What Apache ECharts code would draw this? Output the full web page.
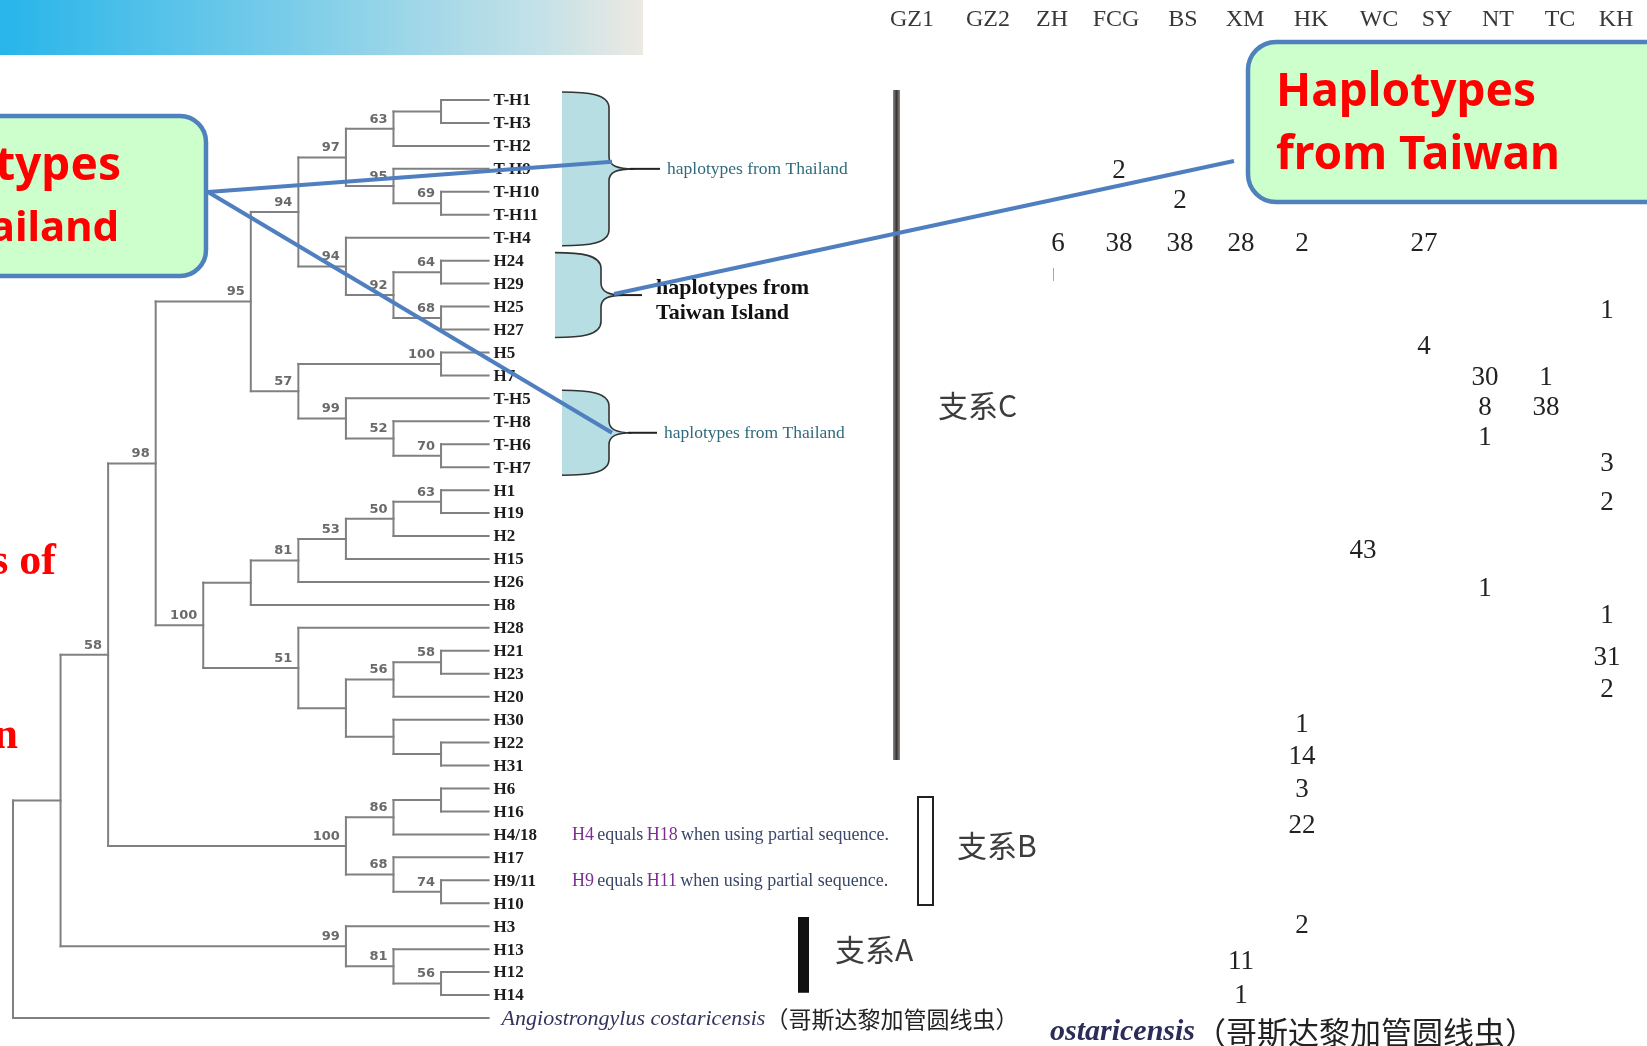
<!DOCTYPE html>
<html>
<head>
<meta charset="utf-8">
<script src="https://cdn.jsdelivr.net/npm/echarts@6/dist/echarts.min.js"></script>
<style>
  html, body { margin: 0; padding: 0; background: #fff; }
  #chart { width: 1647px; height: 1046px; }
</style>
</head>
<body>
<div id="chart"></div>
<script>
// ---- Tree topology (Newick clades, internal labels = bootstrap support) ----
const cladeThaiA   = '((((T-H1,T-H3),T-H2)63,(T-H9,(T-H10,T-H11)69)95)97,(T-H4,((H24,H29)64,(H25,H27)68)92)94)94';
const cladeThaiB   = '((H5,H7)100,(T-H5,(T-H8,(T-H6,T-H7)70)52)99)57';
const cladeMainA   = '(((((H1,H19)63,H2)50,H15)53,H26)81,H8)';
const cladeMainB   = '(H28,(((H21,H23)58,H20)56,(H30,(H22,H31))))51';
const cladeB       = '(((H6,H16),H4/18)86,(H17,(H9/11,H10)74)68)100';
const cladeA       = '(H3,(H13,(H12,H14)56)81)99';
const outgroupName = 'Angiostrongylus costaricensis';
const outgroupCN   = '（哥斯达黎加管圆线虫）';

// root( ( ( ( (ThaiA, ThaiB)95, (MainA, MainB)100 )98, B )58, A ), outgroup )
const treeNewick =
  '(((((' + cladeThaiA + ',' + cladeThaiB + ')95,(' + cladeMainA + ',' + cladeMainB + ')100)98,' +
  cladeB + ')58,' + cladeA + '),' + outgroupName + ')';

// ---- Haplotype counts per locality ----
const tableColumns = ['GZ1', 'GZ2', 'ZH', 'FCG', 'BS', 'XM', 'HK', 'WC', 'SY', 'NT', 'TC', 'KH'];
// [locality, row, count]
const tableCounts = [
  ['FCG', 3.10, 2],
  ['BS', 4.38, 2],
  ['ZH', 6.26, 6], ['FCG', 6.26, 38], ['BS', 6.26, 38], ['XM', 6.26, 28], ['HK', 6.26, 2], ['SY', 6.26, 27],
  ['KH', 9.19, 1],
  ['SY', 10.75, 4],
  ['NT', 12.12, 30], ['TC', 12.12, 1],
  ['NT', 13.40, 8], ['TC', 13.40, 38],
  ['NT', 14.73, 1],
  ['KH', 15.87, 3],
  ['KH', 17.56, 2],
  ['WC', 19.63, 43],
  ['NT', 21.32, 1],
  ['KH', 22.46, 1],
  ['KH', 24.29, 31],
  ['KH', 25.71, 2],
  ['HK', 27.22, 1],
  ['HK', 28.64, 14],
  ['HK', 30.06, 3],
  ['HK', 31.62, 22],
  ['HK', 35.97, 2],
  ['XM', 37.57, 11],
  ['XM', 39.03, 1]
];

// ---- Newick parsing and cladogram layout ----
function parseNewick(s) {
  let i = 0;
  function node() {
    const n = { children: [] };
    if (s[i] === '(') {
      i++;
      n.children.push(node());
      while (s[i] === ',') { i++; n.children.push(node()); }
      i++;
    }
    let name = '';
    while (i < s.length && !',();'.includes(s[i])) name += s[i++];
    n.name = name.trim();
    return n;
  }
  return node();
}

function layoutTree(root) {
  const leaves = [], nodes = [], segs = [];
  let row = 0;
  (function height(n) {
    n.h = n.children.length ? Math.max(...n.children.map(height)) + 1 : 0;
    return n.h;
  })(root);
  const H = root.h;
  (function place(n) {
    n.x = H - n.h;
    if (!n.children.length) { n.y = row++; leaves.push(n); }
    else {
      n.children.forEach(place);
      n.y = (n.children[0].y + n.children[n.children.length - 1].y) / 2;
      nodes.push(n);
    }
  })(root);
  nodes.forEach(n => {
    segs.push([n.x, n.children[0].y, n.x, n.children[n.children.length - 1].y]);
    n.children.forEach(c => segs.push([n.x, c.y, c.x, c.y]));
  });
  return { leaves, nodes, segs, H };
}

const tree = layoutTree(parseNewick(treeNewick));
const leafRow = {};
tree.leaves.forEach(l => { leafRow[l.name] = l.y; });
const supportNodes = tree.nodes.filter(n => n.name !== '');

// brace groupings drawn right of the tip labels
const braces = [
  { from: 'T-H1', to: 'T-H4', caption: 'haplotypes from Thailand' },
  { from: 'H24', to: 'H27', caption: 'haplotypes from\nTaiwan Island' },
  { from: 'T-H5', to: 'T-H7', caption: 'haplotypes from Thailand' }
];
// horizontal geometry of each brace: left edge, body, point, tail end
const braceGeom = [
  { L: 562, B: 609, P: 634, T: 660 },
  { L: 555, B: 601, P: 624, T: 642 },
  { L: 562, B: 609, P: 632, T: 657 }
];
// column header nudges (px) relative to the column centres
const headerShift = [-24, -9, -6, -3, 3, 4, 9, 16, 13, 13, 14, 9];

const chart = echarts.init(document.getElementById('chart'));

const serif = '"Liberation Serif", "DejaVu Serif", serif';
const cjk = '"Noto Sans CJK SC", "Noto Sans", sans-serif';

function linear(stops) {
  return { type: 'linear', x: 0, y: 0, x2: 1, y2: 0, colorStops: stops };
}

function bracePaths(L, B, P, y0, yt, y1) {
  const cx = L + 0.55 * (B - L);
  const open =
    'M' + L + ' ' + y0 +
    ' C' + cx + ' ' + y0 + ' ' + B + ' ' + (y0 + 2) + ' ' + B + ' ' + (y0 + 16) +
    ' L' + B + ' ' + (yt - 12) +
    ' C' + B + ' ' + (yt - 3) + ' ' + (B + 8) + ' ' + yt + ' ' + P + ' ' + yt +
    ' C' + (B + 8) + ' ' + yt + ' ' + B + ' ' + (yt + 3) + ' ' + B + ' ' + (yt + 12) +
    ' L' + B + ' ' + (y1 - 16) +
    ' C' + B + ' ' + (y1 - 2) + ' ' + cx + ' ' + y1 + ' ' + L + ' ' + y1;
  return { fill: open + ' Z', stroke: open };
}

const headerRich = {};
headerShift.forEach((s, i) => {
  headerRich['h' + i] = {
    fontFamily: serif, fontSize: 24, color: '#383838',
    padding: s >= 0 ? [0, 0, 0, 2 * s] : [0, -2 * s, 0, 0]
  };
});

const option = {
  animation: false,
  grid: [
    { left: 13, top: 77.05, width: 475.6, height: 963.9 },
    { left: 905.5, top: 77.05, width: 732, height: 963.9 }
  ],
  xAxis: [
    { type: 'value', gridIndex: 0, min: 0, max: tree.H, show: false },
    {
      type: 'category', gridIndex: 1, data: tableColumns, position: 'top',
      axisLine: { show: false }, axisTick: { show: false }, splitLine: { show: false },
      axisLabel: {
        interval: 0, margin: 45,
        formatter: (v, i) => '{h' + i + '|' + v + '}',
        rich: headerRich
      }
    }
  ],
  yAxis: [
    { type: 'value', gridIndex: 0, min: -1, max: 41, inverse: true, show: false },
    { type: 'value', gridIndex: 1, min: -1, max: 41, inverse: true, show: false }
  ],
  series: [
    {
      // branches
      type: 'custom', xAxisIndex: 0, yAxisIndex: 0,
      data: tree.segs, encode: { x: [0, 2], y: [1, 3] },
      renderItem: (params, api) => {
        const a = api.coord([api.value(0), api.value(1)]);
        const b = api.coord([api.value(2), api.value(3)]);
        return {
          type: 'line',
          shape: { x1: a[0], y1: a[1], x2: b[0], y2: b[1] },
          style: { stroke: '#808080', lineWidth: 2, lineCap: 'square' }
        };
      }
    },
    {
      // tip labels
      type: 'custom', xAxisIndex: 0, yAxisIndex: 0,
      data: tree.leaves.map(l => [l.x, l.y]), encode: { x: 0, y: 1 },
      renderItem: (params, api) => {
        const leaf = tree.leaves[params.dataIndex];
        const p = api.coord([api.value(0), api.value(1)]);
        if (leaf.name === outgroupName) {
          return {
            type: 'text', x: p[0] + 13, y: p[1] + 1,
            style: {
              text: '{i|' + leaf.name + '}{c|' + outgroupCN + '}',
              align: 'left', verticalAlign: 'middle', textAlign: 'left', textVerticalAlign: 'middle',
              rich: {
                i: { fontFamily: serif, fontStyle: 'italic', fontSize: 22, fill: '#33335e' },
                c: { fontFamily: cjk, fontSize: 23, fill: '#222' }
              }
            }
          };
        }
        return {
          type: 'text', x: p[0] + 5, y: p[1] + 1,
          style: {
            text: leaf.name, fontFamily: serif, fontWeight: 'bold', fontSize: 17, fill: '#1c1c1c',
            align: 'left', verticalAlign: 'middle', textAlign: 'left', textVerticalAlign: 'middle'
          }
        };
      }
    },
    {
      // bootstrap support
      type: 'custom', xAxisIndex: 0, yAxisIndex: 0,
      data: supportNodes.map(n => [n.x, n.y]), encode: { x: 0, y: 1 },
      renderItem: (params, api) => {
        const n = supportNodes[params.dataIndex];
        const p = api.coord([api.value(0), api.value(1)]);
        return {
          type: 'text', x: p[0] - 6, y: p[1] - 3,
          style: {
            text: n.name, fontFamily: '"DejaVu Sans", sans-serif', fontWeight: 'bold', fontSize: 13, fill: '#6a6a6a',
            align: 'right', verticalAlign: 'bottom', textAlign: 'right', textVerticalAlign: 'bottom'
          }
        };
      }
    },
    {
      // braces with captions
      type: 'custom', xAxisIndex: 0, yAxisIndex: 0,
      data: braces.map(b => [tree.H, leafRow[b.from], leafRow[b.to]]), encode: { x: 0, y: [1, 2] },
      renderItem: (params, api) => {
        const b = braces[params.dataIndex];
        const g = braceGeom[params.dataIndex];
        const x = api.value(0);
        const y0 = api.coord([x, api.value(1) - 0.35])[1];
        const y1 = api.coord([x, api.value(2) + 0.35])[1];
        const yt = api.coord([x, (api.value(1) + api.value(2)) / 2])[1];
        const p = bracePaths(g.L, g.B, g.P, y0, yt, y1);
        const box = { x: g.L, y: y0, width: g.P - g.L, height: y1 - y0 };
        const taiwan = b.caption.indexOf('\n') >= 0;
        return {
          type: 'group',
          children: [
            { type: 'path', shape: Object.assign({ pathData: p.fill }, box), style: { fill: '#b7dfe3', stroke: null } },
            { type: 'path', shape: Object.assign({ pathData: p.stroke }, box), style: { fill: null, stroke: '#333', lineWidth: 1.6 } },
            { type: 'line', shape: { x1: g.P - 4, y1: yt, x2: g.T, y2: yt }, style: { stroke: '#222', lineWidth: 2 } },
            taiwan ? {
              type: 'text', x: g.T + 14, y: yt + 6,
              style: {
                text: b.caption, fontFamily: serif, fontWeight: 'bold', fontSize: 22, lineHeight: 25, fill: '#111',
                align: 'left', verticalAlign: 'middle', textAlign: 'left', textVerticalAlign: 'middle'
              }
            } : {
              type: 'text', x: g.T + 7, y: yt + 1,
              style: {
                text: b.caption, fontFamily: serif, fontSize: 17.5, fill: '#2f6b7c',
                align: 'left', verticalAlign: 'middle', textAlign: 'left', textVerticalAlign: 'middle'
              }
            }
          ]
        };
      }
    },
    {
      // locality counts
      type: 'custom', xAxisIndex: 1, yAxisIndex: 1,
      dimensions: [{ name: 'locality', type: 'ordinal' }, 'row', 'count'],
      data: tableCounts, encode: { x: 0, y: 1 },
      renderItem: (params, api) => {
        const p = api.coord([api.value(0), api.value(1)]);
        return {
          type: 'text', x: p[0], y: p[1],
          style: {
            text: String(tableCounts[params.dataIndex][2]),
            fontFamily: serif, fontSize: 27, fill: '#222',
            align: 'center', verticalAlign: 'middle', textAlign: 'center', textVerticalAlign: 'middle'
          }
        };
      }
    }
  ]
};

chart.setOption(option);

// ---- Annotations anchored to the tree rows ----
const rowY = r => chart.convertToPixel({ gridIndex: 0 }, [0, r])[1];
const tipY = braces.map(b => rowY((leafRow[b.from] + leafRow[b.to]) / 2));

const graphics = [];

// header band
graphics.push({
  type: 'rect', z: 1, shape: { x: 0, y: 0, width: 643, height: 55 },
  style: {
    fill: linear([
      { offset: 0, color: '#27b5ea' },
      { offset: 0.5, color: '#83cfe9' },
      { offset: 0.85, color: '#c6e2e7' },
      { offset: 1, color: '#ece9e2' }
    ])
  }
});

// clade bars
graphics.push({
  type: 'rect', z: 1,
  shape: { x: 893, y: rowY(leafRow['T-H1'] - 0.44), width: 7, height: rowY(leafRow['H31'] - 0.24) - rowY(leafRow['T-H1'] - 0.44) },
  style: { fill: linear([{ offset: 0, color: '#8c8884' }, { offset: 0.5, color: '#3a3735' }, { offset: 1, color: '#8c8884' }]) }
});
graphics.push({
  type: 'rect', z: 1,
  shape: { x: 918, y: rowY(leafRow['H6'] + 0.37), width: 15, height: rowY(leafRow['H10'] + 0.08) - rowY(leafRow['H6'] + 0.37) },
  style: { fill: '#fff', stroke: '#222', lineWidth: 2 }
});
graphics.push({
  type: 'rect', z: 1,
  shape: { x: 798, y: rowY(leafRow['H3'] - 0.4), width: 11, height: rowY(leafRow['H14'] - 0.1) - rowY(leafRow['H3'] - 0.4) },
  style: { fill: '#111' }
});
const cladeTxt = { fontFamily: cjk, fontSize: 30, fill: '#3c3c3c', align: 'left', verticalAlign: 'middle', textAlign: 'left', textVerticalAlign: 'middle' };
graphics.push({ type: 'text', z: 3, x: 938, y: rowY(13.3), style: Object.assign({ text: '支系C' }, cladeTxt) });
graphics.push({ type: 'text', z: 3, x: 957, y: rowY(32.5), style: Object.assign({ text: '支系B' }, cladeTxt) });
graphics.push({ type: 'text', z: 3, x: 835, y: rowY(37.0), style: Object.assign({ text: '支系A' }, cladeTxt) });

// partial-sequence notes
const noteRich = {
  h: { fontFamily: serif, fontSize: 18, fill: '#7d2f8f' },
  t: { fontFamily: serif, fontSize: 18, fill: '#3a4868' }
};
graphics.push({
  type: 'text', z: 3, x: 572, y: rowY(leafRow['H4/18']) + 1,
  style: { text: '{h|H4} {t|equals} {h|H18} {t|when using partial sequence.}', rich: noteRich, align: 'left', verticalAlign: 'middle', textAlign: 'left', textVerticalAlign: 'middle' }
});
graphics.push({
  type: 'text', z: 3, x: 572, y: rowY(leafRow['H9/11']) + 1,
  style: { text: '{h|H9} {t|equals} {h|H11} {t|when using partial sequence.}', rich: noteRich, align: 'left', verticalAlign: 'middle', textAlign: 'left', textVerticalAlign: 'middle' }
});

// outgroup caption repeated under the table
graphics.push({
  type: 'text', z: 3, x: 1050, y: rowY(40.62),
  style: {
    text: '{i|ostaricensis}{c|' + outgroupCN + '}',
    align: 'left', verticalAlign: 'middle', textAlign: 'left', textVerticalAlign: 'middle',
    rich: {
      i: { fontFamily: serif, fontStyle: 'italic', fontWeight: 'bold', fontSize: 30, fill: '#2c2c58' },
      c: { fontFamily: cjk, fontSize: 31, fill: '#222' }
    }
  }
});
graphics.push({ type: 'line', z: 3, shape: { x1: 1053.5, y1: 268, x2: 1053.5, y2: 281 }, style: { stroke: '#7fb0e0', lineWidth: 1 } });

// red side text
graphics.push({ type: 'text', z: 3, x: 56, y: 563, style: { text: 's of', fontFamily: serif, fontWeight: 'bold', fontSize: 44, fill: '#ff0000', align: 'right', verticalAlign: 'middle', textAlign: 'right', textVerticalAlign: 'middle' } });
graphics.push({ type: 'text', z: 3, x: 18, y: 737, style: { text: 'n', fontFamily: serif, fontWeight: 'bold', fontSize: 44, fill: '#ff0000', align: 'right', verticalAlign: 'middle', textAlign: 'right', textVerticalAlign: 'middle' } });

// callout boxes
const calloutTxt = { fontFamily: '"Noto Sans", sans-serif', fontWeight: 'bold', fontSize: 46, fill: '#ff0000', verticalAlign: 'middle', textVerticalAlign: 'middle' };
graphics.push({
  type: 'rect', z: 19, shape: { x: -40, y: 116, width: 246, height: 160, r: 26 },
  style: { fill: '#ccffcc', stroke: '#4f81bd', lineWidth: 4.5 }
});
graphics.push({ type: 'text', z: 20, x: 121, y: 167, style: Object.assign({ text: 'Haplotypes', align: 'right', textAlign: 'right' }, calloutTxt) });
graphics.push({ type: 'text', z: 20, x: 119, y: 229, style: Object.assign({ text: 'from Thailand', align: 'right', textAlign: 'right' }, calloutTxt, { fontSize: 42 }) });

graphics.push({
  type: 'rect', z: 19, shape: { x: 1248, y: 42, width: 440, height: 160, r: 28 },
  style: { fill: '#ccffcc', stroke: '#4f81bd', lineWidth: 4.5 }
});
graphics.push({ type: 'text', z: 20, x: 1276, y: 93, style: Object.assign({ text: 'Haplotypes', align: 'left', textAlign: 'left' }, calloutTxt) });
graphics.push({ type: 'text', z: 20, x: 1276, y: 156, style: Object.assign({ text: 'from Taiwan', align: 'left', textAlign: 'left' }, calloutTxt) });

// connectors
const conn = { stroke: '#4f7fbf', lineWidth: 4 };
graphics.push({ type: 'line', z: 21, shape: { x1: 208, y1: 192, x2: braceGeom[0].B + 3, y2: tipY[0] - 7 }, style: conn });
graphics.push({ type: 'line', z: 21, shape: { x1: 208, y1: 192, x2: braceGeom[2].B + 3, y2: tipY[2] }, style: conn });
graphics.push({ type: 'line', z: 21, shape: { x1: 1234, y1: 161, x2: braceGeom[1].B + 13, y2: tipY[1] - 1 }, style: conn });

chart.setOption({ graphic: graphics });
</script>
</body>
</html>
